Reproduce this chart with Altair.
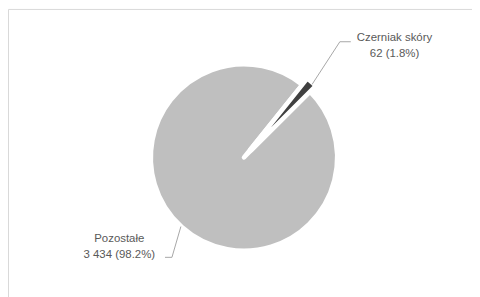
import math
import altair as alt
import pandas as pd

categories = ["Czerniak skóry", "Pozostałe"]
values = [62, 3434]
colors = ["#404040", "#bfbfbf"]

total = sum(values)


def fmt(v):
    return f"{v:,}".replace(",", " ")


line1 = categories
line2 = [f"{fmt(v)} ({v / total * 100:.1f}%)" for v in values]

df = pd.DataFrame({"name": categories, "value": values, "ord": [0, 1],
                   "line1": line1, "line2": line2})

start = math.radians(38.7)
theta_scale = alt.Scale(domain=[0, total], range=[start, start + 2 * math.pi])
color_scale = alt.Scale(domain=categories, range=colors)

cx, cy = 237.5, 149.5

base = alt.Chart(df).transform_window(
    end="sum(value)", sort=[alt.SortField("ord")], frame=[None, 0]
).transform_calculate(start="datum.end - datum.value")


def arc(name, r, r2):
    return base.transform_filter(alt.datum.name == name).mark_arc(
        stroke="white", strokeWidth=4.5, strokeJoin="round", radius=r, radius2=r2
    ).encode(
        theta=alt.Theta("start:Q", scale=theta_scale, stack=None),
        theta2="end:Q",
        color=alt.Color("name:N", scale=color_scale, legend=None),
        x=alt.value(cx),
        y=alt.value(cy),
    )


def label(name, field, x, y):
    return base.transform_filter(alt.datum.name == name).mark_text(
        font="Liberation Sans", fontSize=11.5, color="#595959",
        align="center", baseline="middle"
    ).encode(x=alt.value(x), y=alt.value(y), text=alt.Text(f"{field}:N"))


def seg(x1, y1, x2, y2):
    return base.transform_filter(alt.datum.ord == 0).mark_rule(
        color="#a6a6a6", strokeWidth=1
    ).encode(x=alt.value(x1), y=alt.value(y1), x2=alt.value(x2), y2=alt.value(y2))


layers = [
    arc("Pozostałe", 93.75, 0),
    arc("Czerniak skóry", 102, 10),
    seg(306, 76, 334, 33), seg(334, 33, 345, 33),
    seg(174, 219, 165, 250), seg(165, 250, 158, 250),
    label("Czerniak skóry", "line1", 389, 29.3),
    label("Czerniak skóry", "line2", 389, 45.5),
    label("Pozostałe", "line1", 112, 231.5),
    label("Pozostałe", "line2", 112, 248),
]

chart = alt.layer(*layers).properties(
    width=467, height=295, padding=0, autosize="none", background="white"
).configure_view(stroke="#d9d9d9", strokeWidth=1)

chart.save("out.html", embed_options={"renderer": "svg", "actions": False})
